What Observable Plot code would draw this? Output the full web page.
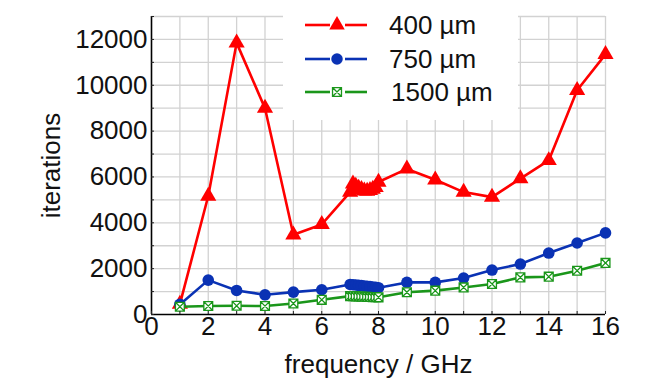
<!DOCTYPE html>
<html>
<head>
<meta charset="utf-8">
<script src="https://cdn.jsdelivr.net/npm/d3@7"></script>
<script src="https://cdn.jsdelivr.net/npm/@observablehq/plot@0.6"></script>
<style>
  html, body { margin: 0; padding: 0; background: #fff; }
  #wrap { position: relative; width: 659px; height: 383px; font-family: "Liberation Sans", Arial, sans-serif; }
  #legend { position: absolute; left: 283px; top: 0px; width: 235px; height: 120px; background: #fff; }
</style>
</head>
<body>
<div id="wrap"><div id="legend"></div></div>
<script>
// ---- data ----
const freq = [1, 2, 3, 4, 5, 6, 7.0, 7.1, 7.2, 7.3, 7.4, 7.5, 7.6, 7.7, 7.8, 7.9, 8.0, 9, 10, 11, 12, 13, 14, 15, 16];
const it400 = [450, 5170, 11850, 9000, 3480, 3930, 5340, 5700, 5600, 5520, 5460, 5400, 5380, 5420, 5470, 5550, 5780, 6350, 5880, 5340, 5120, 5930, 6720, 9780, 11350];
const it750 = [440, 1500, 1050, 860, 975, 1080, 1310, 1300, 1290, 1270, 1260, 1240, 1230, 1220, 1200, 1190, 1170, 1400, 1400, 1590, 1940, 2200, 2680, 3120, 3560];
const it1500 = [340, 370, 380, 370, 480, 640, 800, 795, 790, 785, 780, 775, 770, 765, 760, 755, 750, 970, 1040, 1180, 1330, 1620, 1650, 1910, 2250];
const seriesNames = ["400 µm", "750 µm", "1500 µm"];
const seriesColors = ["#ff0000", "#0a32b4", "#1a961a"];
const xTicks = [0, 2, 4, 6, 8, 10, 12, 14, 16];
const yTicks = [0, 2000, 4000, 6000, 8000, 10000, 12000];
const xMinor = d3.range(0, 17);
const yMinor = d3.range(0, 13001, 1000);
const xGrid = d3.range(1, 17);
const yGrid = d3.range(1000, 13001, 1000);

const rows = (vals, s) => freq.map((f, i) => ({f, v: vals[i], s}));
const d400 = rows(it400, seriesNames[0]);
const d750 = rows(it750, seriesNames[1]);
const d1500 = rows(it1500, seriesNames[2]);

// square with an X inside
const boxX = {
  draw(context, size) {
    const h = Math.sqrt(size) / 2;
    context.moveTo(-h, -h); context.lineTo(h, -h); context.lineTo(h, h); context.lineTo(-h, h); context.closePath();
    context.moveTo(-h, -h); context.lineTo(h, h);
    context.moveTo(h, -h); context.lineTo(-h, h);
  }
};

const chart = Plot.plot({
  width: 659,
  height: 383,
  marginLeft: 151,
  marginRight: 54,
  marginTop: 16,
  marginBottom: 69,
  style: {fontFamily: "'Liberation Sans', Arial, sans-serif", fontSize: "26px", color: "#111", background: "transparent"},
  x: {domain: [0, 16]},
  y: {domain: [0, 13000]},
  marks: [
    Plot.gridX(xGrid, {stroke: "#d2d2d2", strokeOpacity: 1, strokeWidth: 1.3}),
    Plot.gridY(yGrid, {stroke: "#d2d2d2", strokeOpacity: 1, strokeWidth: 1.3}),
    Plot.line(d400, {x: "f", y: "v", stroke: seriesColors[0], strokeWidth: 2.6}),
    Plot.dot(d400, {x: "f", y: "v", symbol: "triangle", r: 6, fill: seriesColors[0]}),
    Plot.line(d750, {x: "f", y: "v", stroke: seriesColors[1], strokeWidth: 2.6}),
    Plot.dot(d750, {x: "f", y: "v", symbol: "circle", r: 5.8, fill: seriesColors[1]}),
    Plot.line(d1500, {x: "f", y: "v", stroke: seriesColors[2], strokeWidth: 2.6}),
    Plot.dot(d1500, {x: "f", y: "v", symbol: boxX, r: 5, fill: "#fff", stroke: seriesColors[2], strokeWidth: 1.3}),
    Plot.ruleX([0], {stroke: "#000", strokeWidth: 1.6}),
    Plot.ruleY([0], {stroke: "#000", strokeWidth: 1.6}),
    Plot.axisX({ticks: xMinor, tickSize: -3, tickFormat: () => "", label: null, stroke: "#222"}),
    Plot.axisY({ticks: yMinor, tickSize: -3, tickFormat: () => "", label: null, stroke: "#222"}),
    Plot.axisX({ticks: xTicks, tickSize: 0, tickPadding: 2, fontSize: 26, label: "frequency / GHz", labelArrow: "none", labelAnchor: "center", labelOffset: 58}),
    Plot.axisY({ticks: yTicks, tickSize: 0, tickPadding: 4, fontSize: 26, tickFormat: d => String(d), label: "iterations", labelArrow: "none", labelAnchor: "center", labelOffset: 110})
  ]
});
document.getElementById("wrap").insertBefore(chart, document.getElementById("legend"));

// ---- legend ----
const leg = d3.select("#legend").append("svg").attr("width", 235).attr("height", 120)
  .style("font-family", "'Liberation Sans', Arial, sans-serif");
const rowY = [25, 59, 92];
const symbols = [d3.symbolTriangle, d3.symbolCircle, boxX];
seriesNames.forEach((name, i) => {
  const g = leg.append("g").attr("transform", `translate(0,${rowY[i]})`);
  g.append("line").attr("x1", 22).attr("x2", 47).attr("y1", 0).attr("y2", 0).attr("stroke", seriesColors[i]).attr("stroke-width", 2.6);
  g.append("line").attr("x1", 62).attr("x2", 84).attr("y1", 0).attr("y2", 0).attr("stroke", seriesColors[i]).attr("stroke-width", 2.6);
  const sz = 33 * Math.PI;
  g.append("path").attr("transform", "translate(54,0)").attr("d", d3.symbol(symbols[i], i === 2 ? 80 : sz)())
    .attr("fill", i === 2 ? "#fff" : seriesColors[i]).attr("stroke", i === 2 ? seriesColors[i] : "none").attr("stroke-width", 1.3);
  g.append("text").attr("x", i === 2 ? 108 : 106).attr("y", 0).attr("dy", "0.35em").attr("font-size", 26).attr("fill", "#111").text(name);
});
</script>
</body>
</html>
